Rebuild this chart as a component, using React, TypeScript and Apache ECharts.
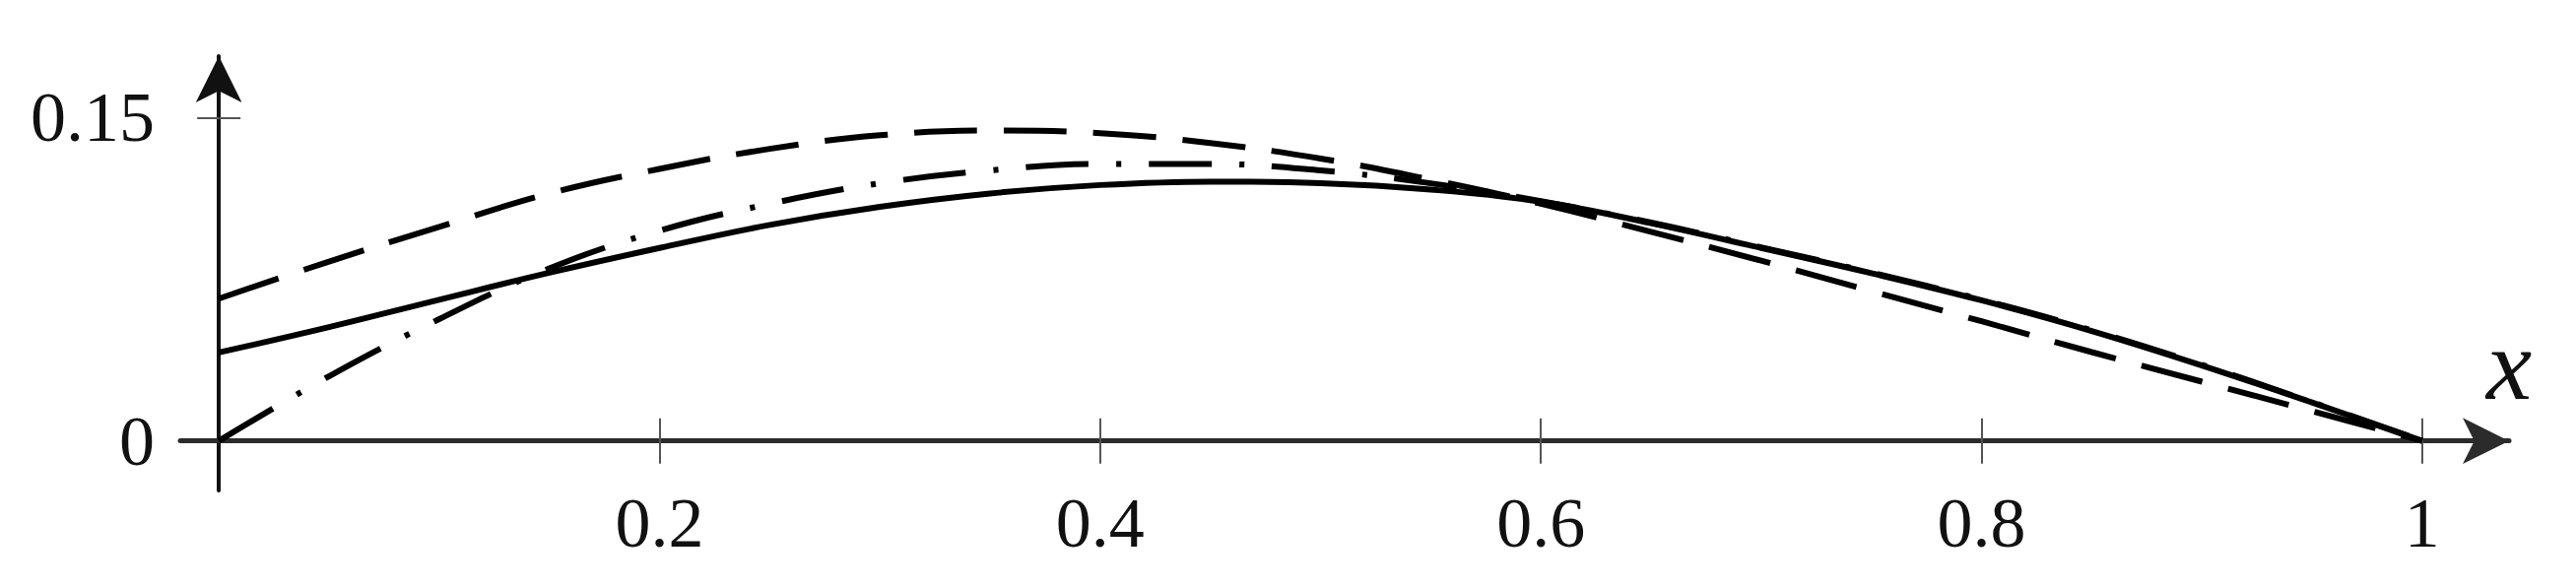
import React, { useEffect, useRef } from "react";
import * as echarts from "echarts";

// ---- data ----
const xValues = [0, 0.05, 0.1, 0.15, 0.2, 0.25, 0.3, 0.35, 0.4, 0.45, 0.5, 0.55, 0.6, 0.65, 0.7, 0.75, 0.8, 0.85, 0.9, 0.95, 1];
const solidValues = [0.041, 0.0528, 0.0655, 0.078, 0.0895, 0.1002, 0.1086, 0.1148, 0.1187, 0.1203, 0.1196, 0.1166, 0.111, 0.101, 0.0895, 0.0778, 0.0652, 0.051, 0.035, 0.0178, 0];
const dashedValues = [0.066, 0.0832, 0.0993, 0.1148, 0.1262, 0.1355, 0.1418, 0.144, 0.1428, 0.1382, 0.131, 0.1212, 0.11, 0.097, 0.0836, 0.0695, 0.0555, 0.0412, 0.0275, 0.0138, 0];
const dashDotValues = [0, 0.03, 0.0565, 0.08, 0.0975, 0.11, 0.1195, 0.1255, 0.1285, 0.1285, 0.1255, 0.1195, 0.1112, 0.1013, 0.0898, 0.0781, 0.0655, 0.0513, 0.0353, 0.018, 0];

const xTickValues = [0.2, 0.4, 0.6, 0.8, 1];
const yTickValues = [0.15];
const yLabelValues = [0, 0.15];
const xAxisTitle = "x";

const X_MIN = -0.0175;
const X_MAX = 1.0394;
const Y_MIN = -0.023;
const Y_MAX = 0.1785;

const FONT = "'Liberation Serif', 'Times New Roman', serif";
const TICK_STYLE = { color: "#555", width: 2 };
const LINE_W = 6;

export default function App() {
  const ref = useRef<HTMLDivElement>(null);

  useEffect(() => {
    const chart = echarts.init(ref.current!, null, { renderer: "svg" });
    const pairs = (ys: number[]) => xValues.map((x, i) => [x, ys[i]]);
    chart.setOption({
      animation: false,
      backgroundColor: "#ffffff",
      grid: { left: 183, right: 68, top: 57, bottom: 98, containLabel: false, outerBoundsMode: "none" },
      xAxis: [
        {
          type: "value",
          min: X_MIN,
          max: X_MAX,
          position: "bottom",
          axisLine: {
            show: true,
            onZero: true,
            symbol: ["none", "arrow"],
            symbolSize: [35, 47],
            lineStyle: { color: "#2b2b2b", width: 5 },
          },
          axisTick: { show: true, customValues: xTickValues, length: 23, lineStyle: TICK_STYLE },
          axisLabel: { show: true, customValues: xTickValues, margin: -3, fontSize: 72, fontFamily: FONT, color: "#111" },
          splitLine: { show: false },
        },
        {
          type: "value",
          min: X_MIN,
          max: X_MAX,
          position: "top",
          axisLine: { show: false, onZero: true },
          axisTick: { show: true, customValues: xTickValues, length: 23, lineStyle: TICK_STYLE },
          axisLabel: { show: false },
          splitLine: { show: false },
        },
      ],
      yAxis: [
        {
          type: "value",
          min: Y_MIN,
          max: Y_MAX,
          position: "left",
          axisLine: {
            show: true,
            onZero: true,
            symbol: ["none", "arrow"],
            symbolSize: [35, 47],
            lineStyle: { color: "#111", width: 4 },
          },
          axisTick: { show: true, customValues: yTickValues, length: 22, lineStyle: TICK_STYLE },
          axisLabel: { show: true, customValues: yLabelValues, margin: 26, fontSize: 72, fontFamily: FONT, color: "#111" },
          splitLine: { show: false },
        },
        {
          type: "value",
          min: Y_MIN,
          max: Y_MAX,
          position: "right",
          axisLine: { show: false, onZero: true },
          axisTick: { show: true, customValues: yTickValues, length: 22, lineStyle: TICK_STYLE },
          axisLabel: { show: false },
          splitLine: { show: false },
        },
      ],
      graphic: [
        {
          type: "text",
          x: 2547,
          y: 369,
          style: {
            text: xAxisTitle,
            fontSize: 104,
            fontStyle: "italic",
            fontFamily: FONT,
            fill: "#111",
            textAlign: "center",
            textVerticalAlign: "middle",
          },
        },
      ],
      series: [
        {
          type: "line",
          xAxisIndex: 0,
          yAxisIndex: 0,
          data: pairs(dashedValues),
          symbol: "none",
          smooth: 0.4,
          lineStyle: { color: "#000", width: LINE_W, type: [64, 27] },
        },
        {
          type: "line",
          xAxisIndex: 0,
          yAxisIndex: 0,
          data: pairs(dashDotValues),
          symbol: "none",
          smooth: 0.4,
          lineStyle: { color: "#000", width: LINE_W, type: [64, 28, 5, 28] },
        },
        {
          type: "line",
          xAxisIndex: 0,
          yAxisIndex: 0,
          data: pairs(solidValues),
          symbol: "none",
          smooth: 0.4,
          lineStyle: { color: "#000", width: LINE_W, type: "solid" },
        },
      ],
    });
    return () => chart.dispose();
  }, []);

  return (
    <div
      ref={ref}
      style={{ position: "absolute", left: 0, top: 0, width: 2615, height: 596, background: "#fff" }}
    />
  );
}
